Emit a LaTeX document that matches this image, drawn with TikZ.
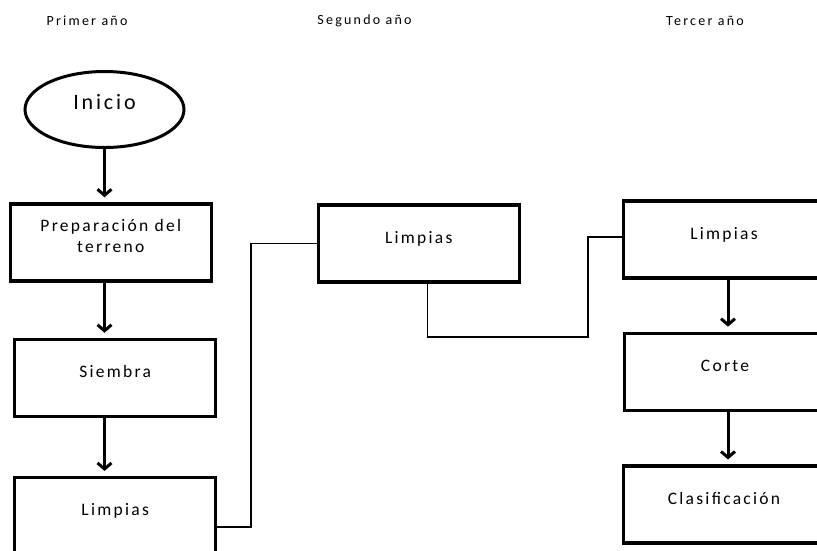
\documentclass[tikz,border=0pt]{standalone}
\usepackage{fontspec}
\setmainfont{Carlito}
\newfontfamily\textocaja[LetterSpace=13]{Carlito}
\newfontfamily\textoanio[LetterSpace=16]{Carlito}
\usetikzlibrary{
  arrows.meta,
  positioning,
  shapes.geometric,
}
\tikzset{
  >={Straight Barb[length=6pt,width=14pt]},
  caja/.style={draw,rectangle,line width=3.5pt,minimum width=201pt,minimum height=77pt,
    text height=12pt,text depth=13pt,font=\textocaja\fontsize{17.5}{21}\selectfont},
  inicio/.style={draw,ellipse,line width=3pt,minimum width=159pt,minimum height=76pt,
    text height=16pt,text depth=16pt,inner sep=0pt,font=\textocaja\fontsize{22}{26}\selectfont},
  encabezado/.style={font=\textoanio\fontsize{14}{16}\selectfont},
  flecha/.style={->,line width=3pt,shorten >=5pt},
  conector/.style={line width=1.6pt},
}
\begin{document}
\begin{tikzpicture}[x=1pt,y=-1pt,node distance=54pt]
      \useasboundingbox (0,0) rectangle (817,550);

      \node[encabezado]    (anio1)  at (87,21)     {Primer año};
      \node[encabezado]    (anio2)  at (364.5,21)  {Segundo año};
      \node[encabezado]    (anio3)  at (705,21)    {Tercer año};

      \node[inicio]    (ini)  at (104.5,109.5)     {Inicio};
      \node[caja,align=center,text height=33pt]    (prep)  at (110.8,242.5)     {Preparación del\\terreno};
      \node[caja]    (siem)  [below=55pt of prep,xshift=4.4pt]     {Siembra};
      \node[caja]    (limp1)  [below=57.7pt of siem]     {Limpias};

      \node[caja]    (limp2)  at (418.8,243.5)     {Limpias};

      \node[caja]    (limp3)  at (724,239.7)     {Limpias};
      \node[caja]    (corte)  [below=51.7pt of limp3,xshift=1pt]     {Corte};
      \node[caja]    (clasif)  [below=52.3pt of corte,xshift=-1pt]     {Clasificación};

      \draw[flecha] (ini.south) -- (ini.south |- prep.north);
      \draw[flecha] (prep.south -| ini.south) -- (siem.north -| ini.south);
      \draw[flecha] (siem.south -| ini.south) -- (limp1.north -| ini.south);
      \draw[flecha] ([xshift=4pt]limp3.south) -- ([xshift=4pt]limp3.south |- corte.north);
      \draw[flecha] ([xshift=4pt]limp3.south |- corte.south) -- ([xshift=4pt]limp3.south |- clasif.north);

      \draw[conector] ([yshift=-10.5pt]limp1.east) -- ++(33.7,0) |- (limp2.west);
      \draw[conector] ([xshift=8.5pt]limp2.south) -- ++(0,53) -| ([xshift=-33.5pt,yshift=3pt]limp3.west) -- ([yshift=3pt]limp3.west);

    \end{tikzpicture}
\end{document}
